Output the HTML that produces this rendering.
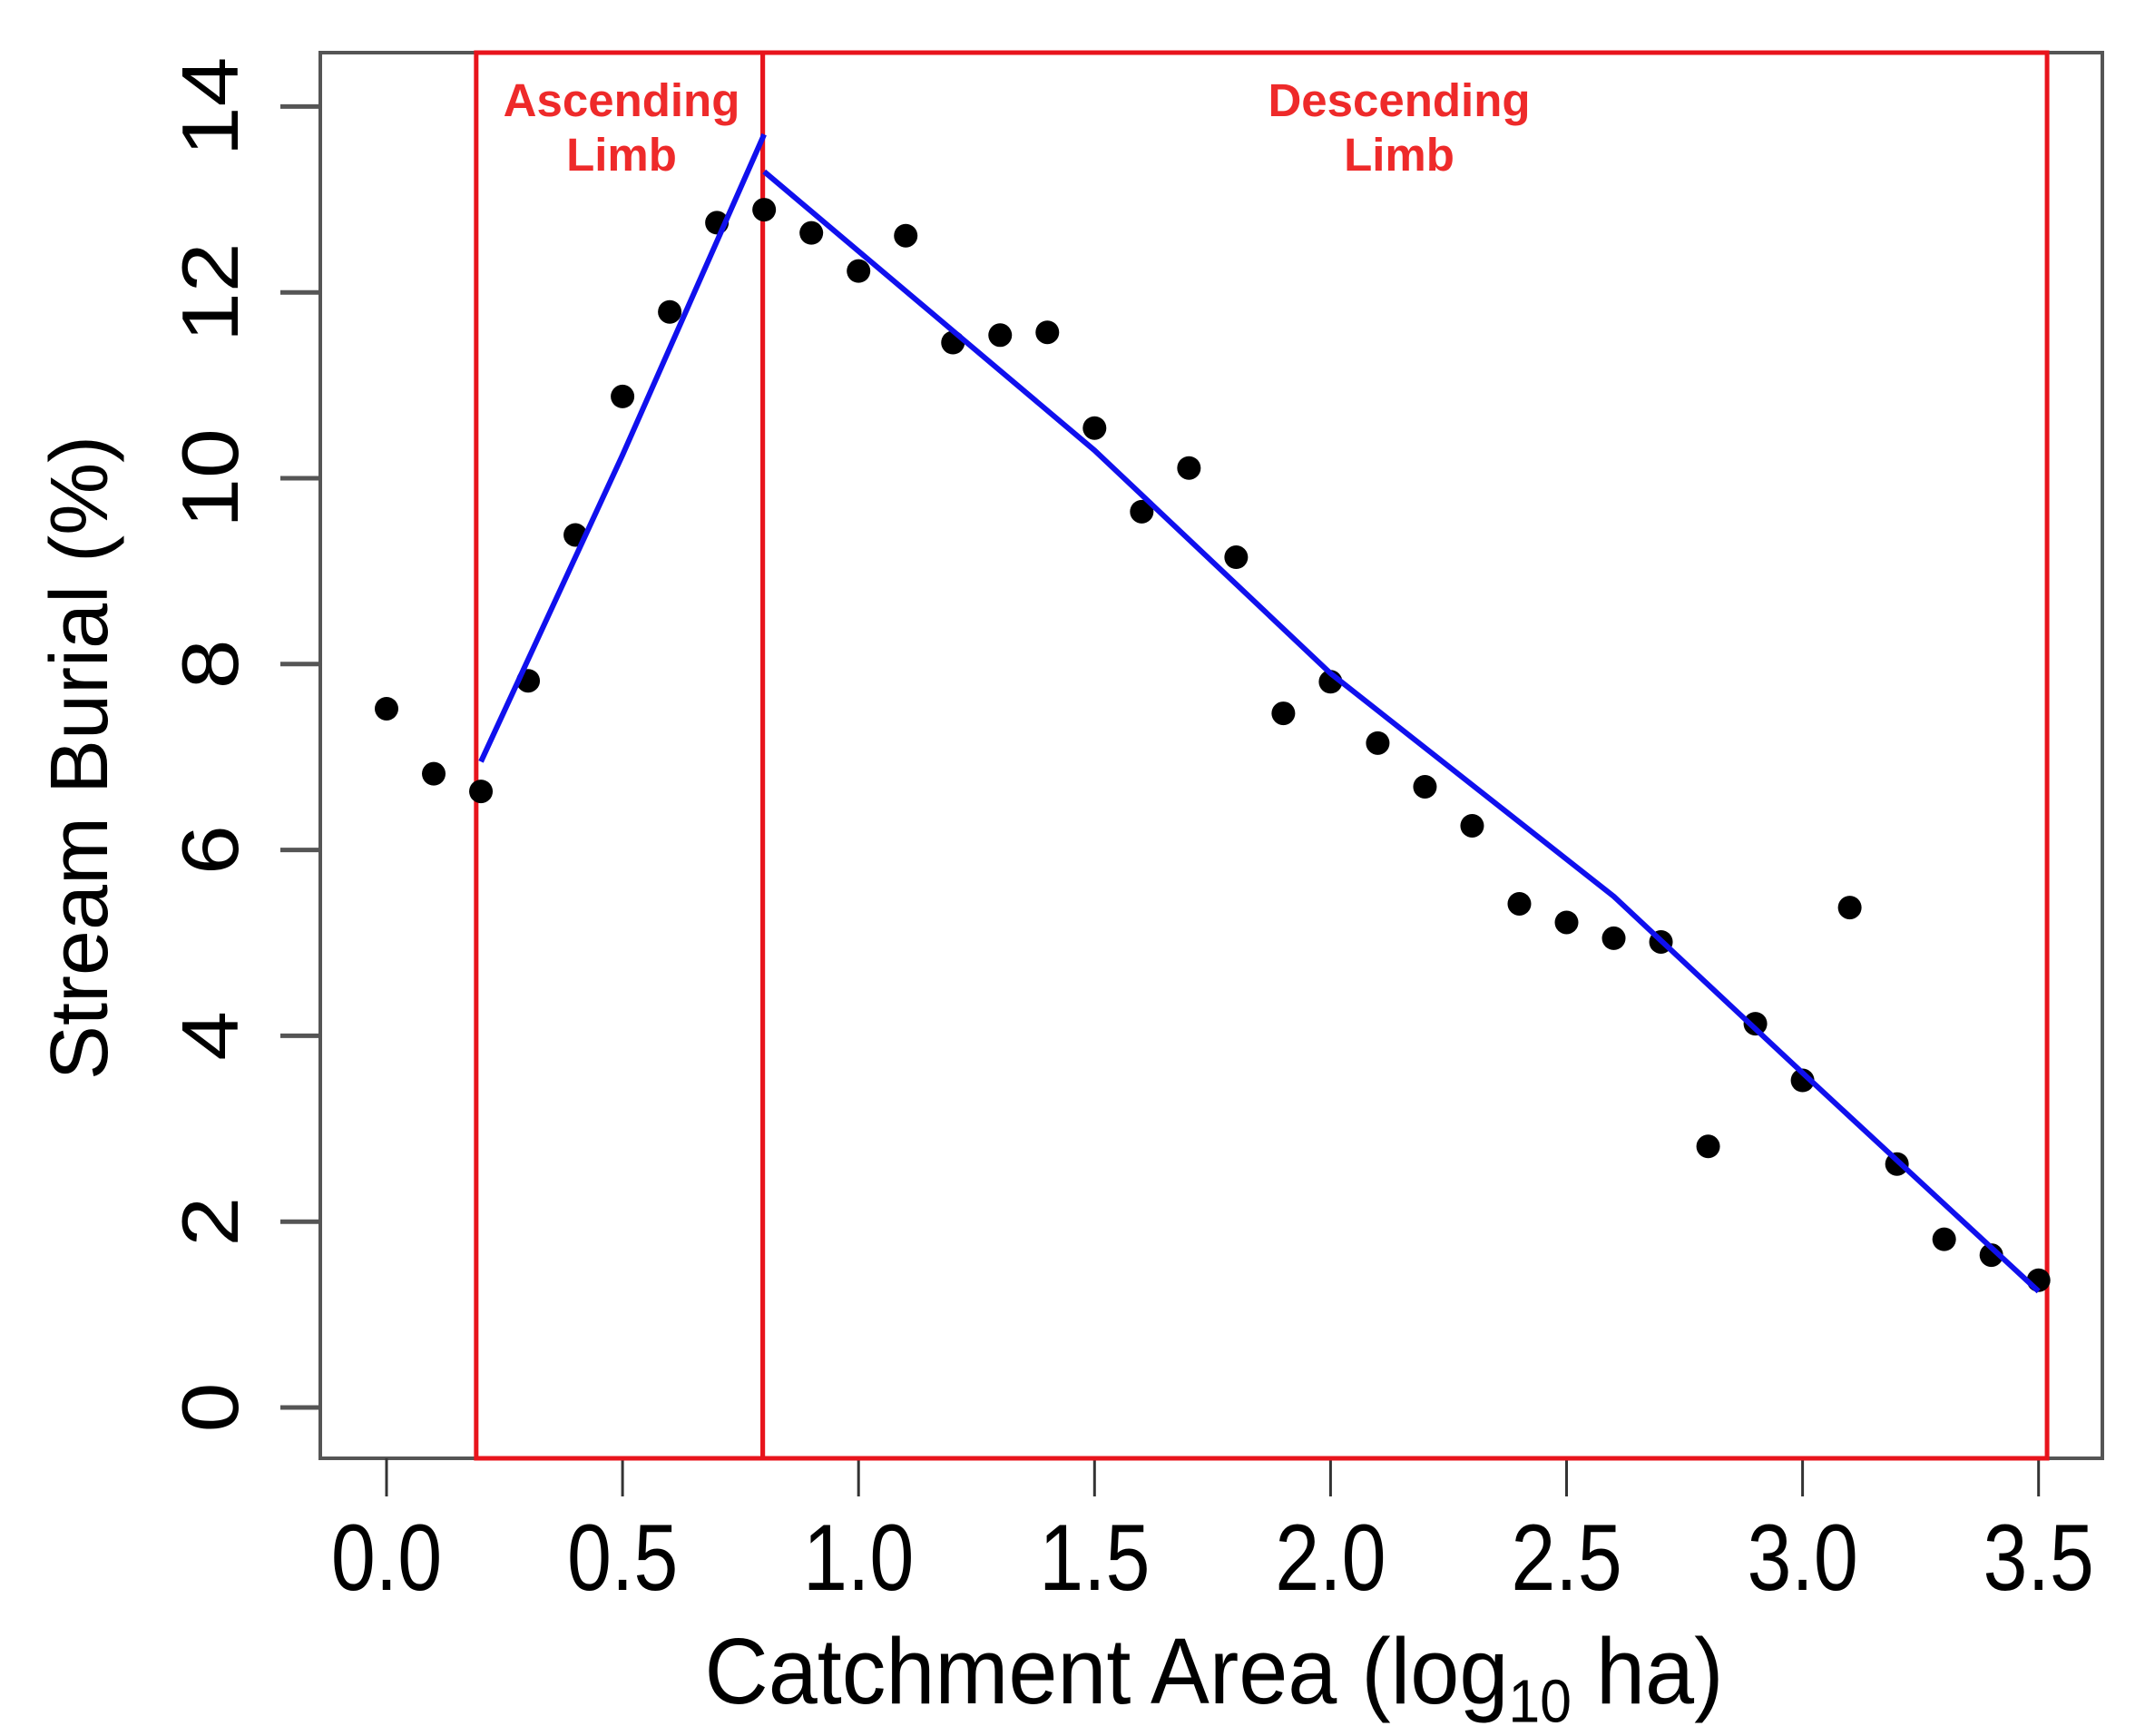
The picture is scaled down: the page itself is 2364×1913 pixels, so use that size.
<!DOCTYPE html>
<html><head><meta charset="utf-8"><style>html,body{margin:0;padding:0;background:#fff}svg{display:block}</style></head>
<body>
<svg id="chart" width="2364" height="1913" viewBox="0 0 2364 1913" xmlns="http://www.w3.org/2000/svg" font-family="Liberation Sans, sans-serif"></svg>
<script>
const xs = [0,0.1,0.2,0.3,0.4,0.5,0.6,0.7,0.8,0.9,1.0,1.1,1.2,1.3,1.4,1.5,1.6,1.7,1.8,1.9,2.0,2.1,2.2,2.3,2.4,2.5,2.6,2.7,2.8,2.9,3.0,3.1,3.2,3.3,3.4,3.5];
const ys = [7.52,6.82,6.63,7.82,9.39,10.88,11.79,12.75,12.89,12.64,12.23,12.61,11.46,11.54,11.57,10.54,9.64,10.11,9.15,7.47,7.81,7.15,6.68,6.26,5.42,5.22,5.05,5.01,2.81,4.13,3.52,5.38,2.62,1.81,1.64,1.37];
const ascX = [0.2,0.5,0.8];
const ascY = [6.95,10.25,13.7];
const descX = [0.8,1.5,2.0,2.6,3.0,3.5];
const descY = [13.3,10.3,7.9,5.5,3.6,1.25];
const xTicks = [0,0.5,1.0,1.5,2.0,2.5,3.0,3.5];
const xTickLabels = ["0.0","0.5","1.0","1.5","2.0","2.5","3.0","3.5"];
const yTicks = [0,2,4,6,8,10,12,14];
const regionBounds = [0.19,0.797,3.518];

const X = v => 426 + v*520.2;
const Y = v => 1551 - v*102.4;
const L=353,R=2317,T=58,B=1607;
const svg=document.getElementById('chart');
const NS='http://www.w3.org/2000/svg';
function mk(tag,attrs,parent){const e=document.createElementNS(NS,tag);for(const k in attrs)e.setAttribute(k,attrs[k]);(parent||svg).appendChild(e);return e;}

let frame=mk('rect',{x:L,y:T,width:R-L,height:B-T,fill:'none',stroke:'#555',"stroke-width":4});



xTicks.forEach((t,i)=>{
  let l=mk('line',{x1:X(t),x2:X(t),y1:B,y2:B+42,stroke:'#333',"stroke-width":3});
  
  
  let tx=mk('text',{x:0,y:0,"font-size":88,"text-anchor":"middle",fill:'#000',transform:`translate(${X(t)} 1752) scale(1 1.18)`});
  tx.textContent=xTickLabels[i];
  
  
});
yTicks.forEach(t=>{
  let l=mk('line',{x1:L-44,x2:L,y1:Y(t),y2:Y(t),stroke:'#555',"stroke-width":5});
  
  
  let tx=mk('text',{x:0,y:0,"font-size":88,"text-anchor":"middle",fill:'#000',transform:`translate(262 ${Y(t)}) rotate(-90) scale(1.12 1)`});
  tx.textContent=String(t);
  
  
});

let xt=mk('text',{x:0,y:0,"font-size":90,"text-anchor":"middle",fill:'#000',transform:'translate(1338 1877) scale(1.08 1.15)'});
xt.innerHTML='Catchment Area (log<tspan font-size="58" dy="18">10</tspan><tspan dy="-18"> ha)</tspan>';


let yt=mk('text',{x:118,y:835,"font-size":90,"text-anchor":"middle",fill:'#000',transform:'rotate(-90 118 835)'});
yt.textContent='Stream Burial (%)';



let r1=mk('rect',{x:X(regionBounds[0]),y:T,width:X(regionBounds[1])-X(regionBounds[0]),height:B-T,fill:'none',stroke:'#e8141c',"stroke-width":5});


let r2=mk('rect',{x:X(regionBounds[1]),y:T,width:X(regionBounds[2])-X(regionBounds[1]),height:B-T,fill:'none',stroke:'#e8141c',"stroke-width":5});


[['Ascending',685,128,'ascending-label'],['Limb',685,188,'ascending-label'],['Descending',1542,128,'descending-label'],['Limb',1542,188,'descending-label']].forEach(a=>{
  let t=mk('text',{x:a[1],y:a[2],"font-size":51,"font-weight":"bold","text-anchor":"middle",fill:'#ee2a2a'});
  t.textContent=a[0];
  
  
});

xs.forEach((x,i)=>{
  let c=mk('circle',{cx:X(x),cy:Y(ys[i]),r:13,fill:'#000'});
  
  
});
let p1=mk('polyline',{points:ascX.map((x,i)=>X(x)+','+Y(ascY[i])).join(' '),fill:'none',stroke:'#1010ee',"stroke-width":6});


let p2=mk('polyline',{points:descX.map((x,i)=>X(x)+','+Y(descY[i])).join(' '),fill:'none',stroke:'#1010ee',"stroke-width":6});


</script>
</body></html>
